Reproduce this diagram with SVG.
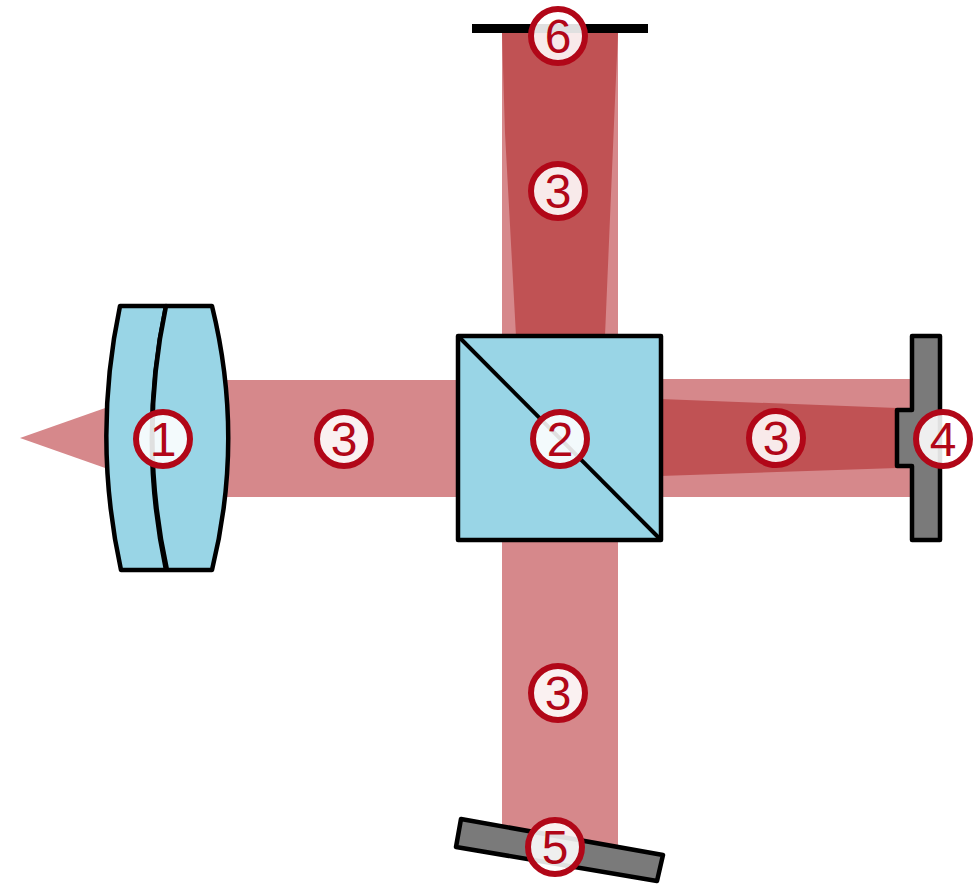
<svg xmlns="http://www.w3.org/2000/svg" width="976" height="884" viewBox="0 0 976 884">
<style>
.beam{fill:#d6888b}
.dark{fill:#c05254}
.glass{fill:#99d5e6;stroke:#000;stroke-width:4.5;stroke-linejoin:round}
.metal{fill:#7a7a7a;stroke:#000;stroke-width:4.5;stroke-linejoin:round}
.badge circle{fill:#fff;fill-opacity:.88;stroke:#b10718;stroke-width:6}
.badge text{font-family:"Liberation Sans",Arial,sans-serif;font-size:48px;fill:#b10718;text-anchor:middle}
</style>
<rect width="976" height="884" fill="#fff"/>
<g id="beams">
<polygon class="beam" points="20,438 108,407 108,469"/>
<rect class="beam" x="224" y="380" width="236" height="117"/>
<rect class="beam" x="502" y="32" width="116" height="306"/>
<rect class="beam" x="660" y="379" width="252" height="118"/>
<polygon class="beam" points="502,538 618,538 618,848 502,830"/>
<polygon class="dark" points="502,33 618,33 615,100 605,336 516,336 505,133"/>
<polygon class="dark" points="660,399 897,408 897,468 660,476"/>
</g>
<g id="lens-1">
<path class="glass" d="M120,306H166A629,629 0 0 0 166,570H121A629,629 0 0 1 120,306Z"/>
<path class="glass" d="M166,306H212A552,552 0 0 1 212,570H167A629,629 0 0 1 166,306Z"/>
</g>
<g id="cube-2">
<rect class="glass" x="458" y="336" width="203" height="204"/>
<line x1="458" y1="336" x2="661" y2="540" stroke="#000" stroke-width="4"/>
</g>
<g id="detector-4">
<path class="metal" d="M912,336H940V540H912V466H897V410H912Z"/>
</g>
<g id="mirror-5">
<polygon class="metal" points="461,819 663,855 657,881 456,847"/>
</g>
<g id="plate-6">
<rect x="472" y="24" width="176" height="9" fill="#000"/>
</g>
<g id="badge-1" class="badge"><circle cx="163" cy="439" r="27"/><text x="163" y="456">1</text></g>
<g id="badge-2" class="badge"><circle cx="560" cy="439" r="27"/><text x="560" y="456">2</text></g>
<g id="badge-3a" class="badge"><circle cx="344" cy="439" r="27"/><text x="344" y="456">3</text></g>
<g id="badge-3b" class="badge"><circle cx="558" cy="191" r="27"/><text x="558" y="208">3</text></g>
<g id="badge-3c" class="badge"><circle cx="776" cy="438" r="27"/><text x="776" y="455">3</text></g>
<g id="badge-3d" class="badge"><circle cx="558" cy="693" r="27"/><text x="558" y="710">3</text></g>
<g id="badge-4" class="badge"><circle cx="943" cy="439" r="27"/><text x="943" y="456">4</text></g>
<g id="badge-5" class="badge"><circle cx="555" cy="847" r="27"/><text x="555" y="864">5</text></g>
<g id="badge-6" class="badge"><circle cx="558" cy="36" r="27"/><text x="558" y="53">6</text></g>
</svg>
